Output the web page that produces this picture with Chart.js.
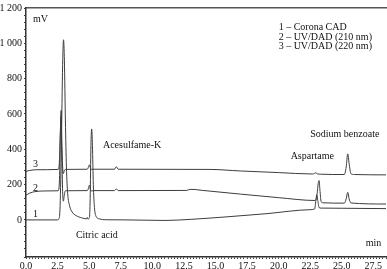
<!DOCTYPE html>
<html>
<head>
<meta charset="utf-8">
<script src="https://cdn.jsdelivr.net/npm/chart.js@4/dist/chart.umd.min.js"></script>
<style>
html,body{margin:0;padding:0;background:#fff;}
#c{display:block;}
</style>
</head>
<body>
<canvas id="c" width="387" height="269"></canvas>
<script>
// ---- data (time in min, signal in mV) ----
const cadTime   = [0,2.5,2.6,2.7,2.8,2.9,2.97,3.04,3.12,3.2,3.3,3.45,3.65,3.95,4.4,4.8,4.85,4.9,5.02,5.08,5.14,5.2,5.26,5.33,5.42,5.55,5.8,6.3,8,11,13,16,19,22.5,22.85,22.95,23.02,23.1,23.2,23.35,25,28.5];
const cadSignal = [0,0,5,80,420,880,1020,900,560,300,150,80,45,25,12,6,14,5,12,120,420,515,420,200,70,20,6,1,0,-3,3,18,35,58,62,110,142,110,70,67,66,64];

const uv210Time   = [0,0.3,0.7,1.5,2.55,2.65,2.72,2.78,2.84,2.9,2.96,3.03,3.12,4.85,4.95,5.02,5.1,5.2,5.3,7.0,7.15,7.3,12.7,13.0,13.4,14.0,17,20,22.9,23.05,23.13,23.2,23.28,23.36,23.5,25.2,25.35,25.47,25.58,25.72,28.5];
const uv210Signal = [140,152,160,164,165,230,480,620,380,160,106,140,165,166,180,197,175,163,166,166,176,166,167,173,172,167,146,126,110,150,205,223,160,105,97,95,120,156,120,96,90];

const uv220Time   = [0,0.3,0.8,2.55,2.65,2.72,2.78,2.84,2.9,2.96,3.03,3.12,4.85,4.95,5.02,5.1,5.2,5.3,7.0,7.15,7.3,14.5,17,20,22.7,22.85,22.95,23.05,23.3,25.2,25.35,25.47,25.58,25.72,26,28.5];
const uv220Signal = [275,280,284,286,340,500,590,420,300,262,278,286,287,300,312,295,285,287,287,301,287,286,277,268,260,264,267,261,259,257,300,374,320,262,257,255];

const xTickLabels = [0,2.5,5,7.5,10,12.5,15,17.5,20,22.5,25,27.5];
const yTickLabels = [0,200,400,600,800,1000,1200];

const legendLines = ["1 \u2013 Corona CAD","2 \u2013 UV/DAD (210 nm)","3 \u2013 UV/DAD (220 nm)"];
const peakNames   = ["Acesulfame-K","Citric acid","Aspartame","Sodium benzoate"];
const traceNames  = ["1","2","3"];

// ---- text placement (data coordinates) ----
const textItems = [
  {t:"mV", x:0.55, y:1133},
  {t:legendLines[0], x:20.0, y:1088},
  {t:legendLines[1], x:20.0, y:1036},
  {t:legendLines[2], x:20.0, y:984},
  {t:peakNames[0], x:6.09, y:424},
  {t:peakNames[1], x:3.95, y:-89},
  {t:peakNames[2], x:20.95, y:357},
  {t:peakNames[3], x:22.5, y:486},
  {t:"min", x:26.9, y:-134},
  {t:traceNames[0], x:0.55, y:30},
  {t:traceNames[1], x:0.55, y:181},
  {t:traceNames[2], x:0.55, y:315}
];

function pts(xs, ys){ return xs.map((x,i)=>({x:x, y:ys[i]})); }

const lineColor = '#3c3c3c';
const FONT = '"Liberation Serif", "Times New Roman", serif';

const textPlugin = {
  id:'texts',
  afterDatasetsDraw(chart){
    const ctx = chart.ctx, xs = chart.scales.x, ys = chart.scales.y;
    ctx.save();
    ctx.font = '10px ' + FONT;
    ctx.fillStyle = '#111';
    ctx.textAlign = 'left';
    ctx.textBaseline = 'middle';
    textItems.forEach(o=>{
      ctx.fillText(o.t, xs.getPixelForValue(o.x), ys.getPixelForValue(o.y));
    });
    ctx.restore();
  }
};

function isMultiple(v, step){ const r = v/step; return Math.abs(r-Math.round(r))<1e-6; }

new Chart(document.getElementById('c'), {
  type:'line',
  data:{
    datasets:[
      {data:pts(cadTime,cadSignal)},
      {data:pts(uv210Time,uv210Signal)},
      {data:pts(uv220Time,uv220Signal)}
    ].map(d=>Object.assign(d,{borderColor:lineColor,borderWidth:1,pointRadius:0,cubicInterpolationMode:'monotone',fill:false}))
  },
  options:{
    responsive:false,
    animation:false,
    layout:{padding:{top:4,left:0,right:0,bottom:0}},
    plugins:{legend:{display:false},tooltip:{enabled:false}},
    scales:{
      x:{
        type:'linear', position:'bottom', min:0, max:28.5,
        grid:{display:true, drawOnChartArea:false, tickLength:2, color:'#444', tickWidth:1},
        border:{display:true, color:'#333', width:1.5},
        ticks:{
          stepSize:0.25, autoSkip:false, maxRotation:0, maxTicksLimit:1000, padding:1,
          color:'#111', font:{family:FONT, size:10},
          callback:(v)=> xTickLabels.some(t=>Math.abs(t-v)<1e-6) ? Number(v).toFixed(1) : ''
        },
        afterFit(s){ s.height = 12; }
      },
      xTop:{
        type:'linear', position:'top', min:0, max:28.5,
        grid:{display:false, drawTicks:false},
        border:{display:true, color:'#555', width:1.5},
        ticks:{display:false},
        afterFit(s){ s.height = 0; }
      },
      y:{
        type:'linear', min:-210, max:1200,
        grid:{display:true, drawOnChartArea:false, tickLength:2, color:'#444', tickWidth:1},
        border:{display:true, color:'#333', width:1.5},
        ticks:{
          stepSize:40, autoSkip:false, maxTicksLimit:1000, padding:2,
          color:'#111', font:{family:FONT, size:10},
          callback:(v)=>{
            if(!yTickLabels.some(t=>Math.abs(t-v)<1e-6)) return '';
            return v>=1000 ? String(v).replace(/(\d)(\d{3})$/,'$1 $2') : String(v);
          }
        },
        afterFit(s){ s.width = 26; }
      }
    }
  },
  plugins:[textPlugin]
});
</script>
</body>
</html>
